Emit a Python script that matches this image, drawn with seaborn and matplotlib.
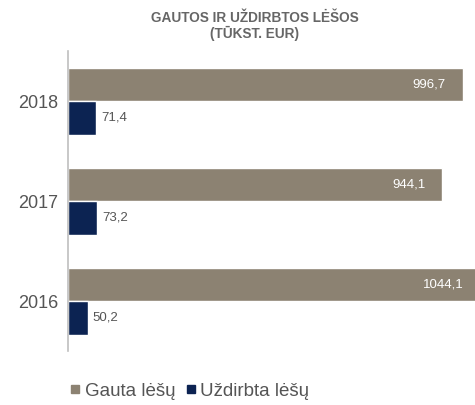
import matplotlib
matplotlib.use("Agg")
import matplotlib.pyplot as plt
import seaborn as sns
import pandas as pd
from matplotlib.lines import Line2D

years = ["2018", "2017", "2016"]
gauta = [996.7, 944.1, 1044.1]
uzdirbta = [71.4, 73.2, 50.2]
series = ["Gauta lėšų", "Uždirbta lėšų"]
title = "GAUTOS IR UŽDIRBTOS LĖŠOS\n(TŪKST. EUR)"

colors = ["#8c8272", "#0c2352"]

sns.set_theme(style="white")
plt.rcParams["font.family"] = ["Liberation Sans", "DejaVu Sans"]

df = pd.DataFrame({
    "year": years * 2,
    "value": gauta + uzdirbta,
    "series": [series[0]] * 3 + [series[1]] * 3,
})

fig = plt.figure(figsize=(4.75, 4.05), dpi=100)
ax = fig.add_axes([68 / 475, 54 / 405, 1 - 68 / 475, 300 / 405])

sns.barplot(data=df, x="value", y="year", hue="series", order=years,
            hue_order=series, palette=colors, orient="h", width=0.67,
            gap=0, saturation=1, ax=ax, legend=False, errorbar=None)

ax.set_xlim(0, 1027)
ax.set_ylim(2.5, -0.5)
ax.set_xlabel("")
ax.set_ylabel("")
ax.set_xticks([])
for s in ["top", "right", "bottom"]:
    ax.spines[s].set_visible(False)
ax.spines["left"].set_color("#bfbfbf")
ax.spines["left"].set_linewidth(1.2)
ax.tick_params(axis="y", which="major", length=0, labelsize=13,
               labelcolor="#555555", pad=7)
ax.set_yticks([0.5, 1.5], minor=True)
ax.tick_params(axis="y", which="minor", length=4, color="#bfbfbf", width=1)

xmax = ax.get_xlim()[1]
for i, c in enumerate(ax.containers):
    vals = gauta if i == 0 else uzdirbta
    for bar, v in zip(c, vals):
        yc = bar.get_y() + bar.get_height() / 2
        label = f"{v:.1f}".replace(".", ",")
        if i == 0:
            ax.annotate(label, (min(v, xmax + 14), yc), xytext=(-17, 0),
                        textcoords="offset pixels", ha="right", va="center",
                        color="white", fontsize=9.5, annotation_clip=False)
        else:
            ax.annotate(label, (v, yc), xytext=(5, 0),
                        textcoords="offset pixels", ha="left", va="center",
                        color="#555555", fontsize=9.5)

fig.text(255 / 475, 1 - 26 / 405, title, ha="center", va="center",
         fontsize=9.8, fontweight="bold", color="#666666", linespacing=1.1)

handles = [Line2D([0], [0], marker="s", linestyle="none", markersize=6,
                  markerfacecolor=col, markeredgecolor=col) for col in colors]
fig.legend(handles, series, loc="center left", bbox_to_anchor=(50 / 475, 1 - 391 / 405),
           ncol=2, frameon=False, fontsize=13.5, handletextpad=0.05,
           columnspacing=0.4, handlelength=0.9, labelcolor="#555555")

fig.savefig("out.png", dpi=100)
